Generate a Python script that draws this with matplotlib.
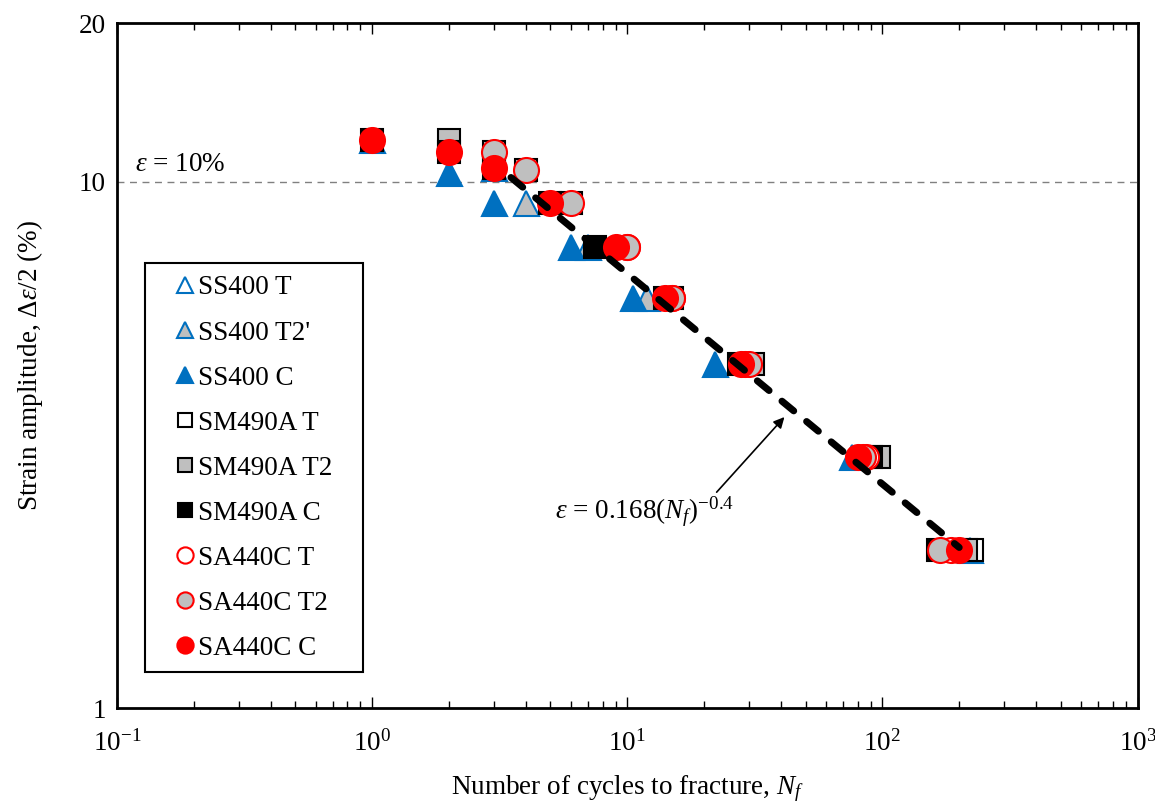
import numpy as np
import matplotlib
matplotlib.use("Agg")
import matplotlib.pyplot as plt
from matplotlib.patches import Rectangle
from matplotlib.ticker import FuncFormatter, LogLocator, NullFormatter

plt.rcParams['font.family'] = ['Liberation Serif', 'DejaVu Serif']
plt.rcParams['mathtext.fontset'] = 'custom'
plt.rcParams['mathtext.rm'] = 'Liberation Serif'
plt.rcParams['mathtext.it'] = 'Liberation Serif:italic'

# data: (cycles to fracture, strain amplitude %)
ss400_t_n = [220]
ss400_t_e = [2.0]
ss400_t2_n = [4, 7, 12]
ss400_t2_e = [9.1, 7.5, 6.0]
ss400_c_n = [1, 2, 3, 3, 6, 10.5, 22, 76]
ss400_c_e = [12.0, 10.4, 10.6, 9.1, 7.5, 6.0, 4.5, 3.0]

sm490_t_n = [225]
sm490_t_e = [2.0]
sm490_t2_n = [2, 3, 4, 6, 15, 31, 97, 212]
sm490_t2_e = [12.0, 11.4, 10.5, 9.1, 6.0, 4.5, 3.0, 2.0]
sm490_c_n = [1, 2, 3, 5, 7.5, 14, 27.5, 90, 165]
sm490_c_e = [12.0, 11.4, 10.6, 9.1, 7.5, 6.0, 4.5, 3.0, 2.0]

sa440_t_n = [10, 15, 29, 86, 185]
sa440_t_e = [7.5, 6.0, 4.5, 3.0, 2.0]
sa440_t2_n = [3, 4, 6, 10, 15, 30, 84, 168]
sa440_t2_e = [11.4, 10.5, 9.1, 7.5, 6.0, 4.5, 3.0, 2.0]
sa440_c_n = [1, 2, 3, 5, 9, 14, 28, 80, 200]
sa440_c_e = [12.0, 11.4, 10.6, 9.1, 7.5, 6.0, 4.5, 3.0, 2.0]

# fitted curve eps = 0.168 * Nf^-0.4 (fraction)
fit_a = 0.168
fit_b = -0.4
fit_range = [3.5, 200]

blue = '#0070C0'
grey = '#BFBFBF'
red = '#FF0000'
fs = 19.5

fig = plt.figure(figsize=(11.55, 8.11), dpi=100)
ax = fig.add_axes([0.1013, 0.127, 0.8836, 0.8446])

ms = 18
ax.plot(ss400_t_n, ss400_t_e, '^', ms=ms, mfc='white', mec=blue, mew=1.5, ls='none', label='SS400 T')
ax.plot(ss400_t2_n, ss400_t2_e, '^', ms=ms, mfc=grey, mec=blue, mew=1.5, ls='none', label="SS400 T2'")
ax.plot(ss400_c_n, ss400_c_e, '^', ms=ms, mfc=blue, mec=blue, mew=1.5, ls='none', label='SS400 C')
ax.plot(sm490_t_n, sm490_t_e, 's', ms=ms - 2, mfc='white', mec='black', mew=1.5, ls='none', label='SM490A T')
ax.plot(sm490_t2_n, sm490_t2_e, 's', ms=ms - 2, mfc=grey, mec='black', mew=1.5, ls='none', label='SM490A T2')
ax.plot(sm490_c_n, sm490_c_e, 's', ms=ms - 2, mfc='black', mec='black', mew=1.5, ls='none', label='SM490A C')
ax.plot(sa440_t_n, sa440_t_e, 'o', ms=ms, mfc='white', mec=red, mew=1.5, ls='none', label='SA440C T')
ax.plot(sa440_t2_n, sa440_t2_e, 'o', ms=ms, mfc=grey, mec=red, mew=1.5, ls='none', label='SA440C T2')
ax.plot(sa440_c_n, sa440_c_e, 'o', ms=ms, mfc=red, mec=red, mew=1.5, ls='none', label='SA440C C')

nf = np.logspace(np.log10(fit_range[0]), np.log10(fit_range[1]), 100)
ax.plot(nf, 100 * fit_a * nf ** fit_b, color='black', lw=5, ls=(0, (2.2, 2.4)),
        dash_capstyle='round', zorder=5)

ax.axhline(10, color='#808080', lw=1, ls=(0, (5, 4)), zorder=0)
ax.text(0.118, 10.45, r'$\mathit{ε}$ = 10%', fontsize=fs)

ax.text(5.2, 2.36, r'$\mathit{ε}$ = 0.168($\mathit{N_f}$)$^{\mathregular{-0.4}}$',
        fontsize=fs, va='center')
ax.annotate('', xy=(41.3, 3.57), xytext=(22.4, 2.57),
            arrowprops=dict(arrowstyle='-|>', color='black', lw=1.2,
                            shrinkA=0, shrinkB=0, mutation_scale=16))

ax.set_xscale('log')
ax.set_yscale('log')
ax.set_xlim(0.1, 1000)
ax.set_ylim(1, 20)

ax.xaxis.set_major_locator(LogLocator(base=10))
ax.xaxis.set_minor_locator(LogLocator(base=10, subs=np.arange(2, 10)))
ax.xaxis.set_major_formatter(FuncFormatter(lambda v, p: r'$\mathregular{10^{%d}}$' % round(np.log10(v))))
ax.xaxis.set_minor_formatter(NullFormatter())
ax.set_yticks([1, 10, 20])
ax.set_yticklabels(['1', '10', '20'])
ax.yaxis.set_minor_locator(plt.NullLocator())

ax.tick_params(axis='x', which='both', direction='in', top=True, labelsize=fs, pad=16)
ax.tick_params(axis='x', which='major', length=8, width=1)
ax.tick_params(axis='x', which='minor', length=5, width=1)
ax.tick_params(axis='y', which='both', direction='in', length=0, labelsize=fs, pad=8)
for s in ax.spines.values():
    s.set_linewidth(2)

ax.set_xlabel(r'Number of cycles to fracture, $\mathit{N_f}$', fontsize=fs, labelpad=12)
ax.set_ylabel(r'Strain amplitude, $\mathregular{\Delta}\mathit{ε}$/2 (%)', fontsize=fs, labelpad=24)

leg = ax.legend(loc='upper left', bbox_to_anchor=(0.029, 0.671), fontsize=fs,
                frameon=False, handlelength=0.8, handletextpad=0.1,
                labelspacing=0.74, borderpad=0.5, markerscale=0.65)
ax.add_patch(Rectangle((0.0274, 0.0526), 0.2133, 0.597, transform=ax.transAxes,
                       fill=False, edgecolor='black', lw=1.5, zorder=6))

fig.savefig('out.png', dpi=100)
